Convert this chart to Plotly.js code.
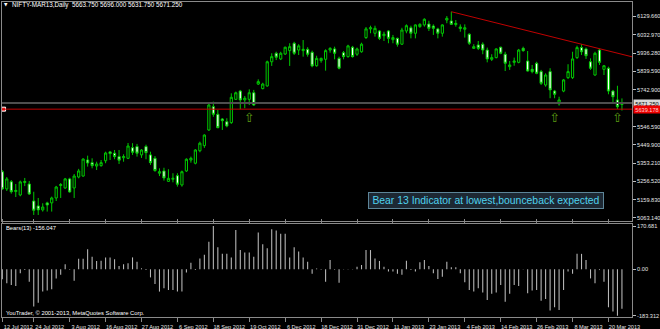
<!DOCTYPE html>
<html><head><meta charset="utf-8">
<script src="https://cdn.plot.ly/plotly-3.0.1.min.js"></script>
<style>html,body{margin:0;padding:0;background:#000;}#chart{width:660px;height:329px;}</style>
</head><body><div id="chart"></div>
<script>
// ---- data ----
const barIdx = Array.from({length:139},(_,i)=>i);
const openP  = [5308,5217,5255,5203,5185,5251,5243,5153,5127,5106,5143,5143,5169,5235,5222,5270,5222,5280,5285,5370,
5356,5338,5340,5366,5413,5406,5388,5382,5379,5435,5441,5397,5441,5397,5379,5300,5312,5257,5268,5287,
5238,5312,5370,5353,5419,5446,5529,5652,5612,5587,5573,5568,5691,5735,5688,5691,5726,5772,5748,5762,
5890,5935,5905,5931,5949,5988,5952,5949,5956,5940,5869,5896,5903,5952,5958,5908,5938,5917,5967,5930,
5943,6018,6064,6041,6053,6028,6053,6007,6014,5983,6053,6070,6041,6076,6085,6090,6079,6064,6041,6111,
6106,6087,6066,6062,6036,5961,5979,5983,5952,5903,5912,5967,5930,5864,5887,5887,5961,5894,5850,5882,
5838,5767,5838,5735,5667,5735,5806,5806,5912,5965,5958,5890,5820,5952,5850,5856,5735,5688,5663.75];
const highP  = [5317,5280,5264,5243,5261,5275,5259,5202,5169,5141,5149,5176,5233,5248,5275,5276,5296,5323,5379,5393,
5379,5361,5370,5414,5418,5423,5423,5400,5460,5459,5455,5428,5451,5414,5391,5326,5329,5321,5300,5300,
5314,5379,5388,5427,5467,5506,5670,5679,5635,5592,5591,5723,5732,5741,5709,5744,5741,5797,5779,5896,
5935,5943,5943,5970,5988,5996,5983,6005,5967,5949,5922,5912,5956,5967,5970,5917,5947,5980,5974,5965,
5991,6074,6081,6081,6058,6049,6058,6032,6018,6070,6088,6081,6088,6094,6120,6107,6088,6070,6088,6132,
6155,6111,6088,6088,6041,5983,6000,5993,5965,5930,5961,5970,5943,5894,5912,5958,5970,5947,5873,5890,
5847,5829,5856,5741,5705,5799,5877,5943,5975,5983,5965,5908,5943,5958,5873,5864,5741,5763,5696];
const lowP   = [5211,5206,5192,5174,5178,5232,5185,5079,5079,5097,5097,5097,5153,5169,5217,5197,5169,5273,5282,5335,
5326,5317,5335,5353,5370,5374,5349,5361,5375,5397,5388,5381,5374,5344,5308,5285,5261,5254,5252,5229,
5229,5307,5356,5347,5411,5434,5524,5599,5538,5529,5543,5561,5688,5639,5644,5661,5656,5767,5744,5758,
5868,5899,5899,5926,5868,5926,5926,5917,5917,5861,5864,5885,5843,5938,5903,5850,5903,5912,5912,5921,
5938,6011,6041,6023,6005,6000,5988,5988,5970,5979,6041,6014,6014,6070,6076,6053,6032,6014,6023,6094,
6085,6076,6049,6018,5979,5958,5952,5930,5887,5894,5908,5930,5841,5847,5869,5882,5943,5838,5829,5824,
5767,5758,5697,5697,5658,5729,5799,5799,5905,5926,5905,5847,5816,5873,5820,5718,5676,5640,5631.75];
const closeP = [5217,5270,5202,5209,5254,5256,5190,5104,5106,5121,5132,5169,5227,5240,5270,5201,5285,5312,5375,5354,
5340,5349,5356,5407,5404,5388,5369,5388,5444,5411,5406,5423,5409,5356,5314,5308,5275,5273,5273,5242,
5308,5374,5379,5423,5459,5502,5661,5612,5541,5578,5550,5702,5726,5688,5697,5726,5661,5785,5772,5890,
5917,5914,5935,5967,5970,5935,5974,5956,5930,5868,5908,5908,5949,5961,5935,5856,5917,5974,5917,5958,
5983,6064,6070,6067,6014,6036,6014,6018,5983,6058,6081,6041,6085,6088,6115,6067,6067,6041,6085,6120,
6088,6093,6074,6070,5988,5970,5961,5952,5905,5912,5958,5935,5882,5873,5894,5952,5949,5841,5838,5829,
5776,5820,5741,5718,5688,5794,5838,5905,5965,5943,5922,5856,5935,5887,5869,5735,5705,5652,5671.25];
const bears = [-39.5,-55,-62,-66,-16,-3,-49,-147,-132,-88,-84,-79,-36,-22,20,-2,-45,42,42,79,
50,33,34,47,47,40,13,20,24,47,30,4,-3,-32,-58,-88,-75,-82,-82,-88,
-88,-13,26,-3,43,57,109,170.681,87,61,61,47,155,76,66,66,50,145,99,83,
158,153,140,140,47,87,70,47,30,-18,3,-2,-49,37,-2,-53,-1,1,-1,10,
17,76,76,43,33,10,-9,-9,-18,-22,34,-3,-9,28,37,13,-16,-38,-29,30,
8,8,-16,-51,-82,-88,-75,-92,-121,-97,-92,-62,-128,-97,-62,-66,-1,-95,-84,-82,
-124,-117,-163,-150,-161,-82,-9,-18,61,61,37,-36,-55,-3,-49,-150,-167,-183.312,-156.047];

const tickIdx  = [0,7,15,23,31,39,47,55,63,71,79,87,95,103,111,119,127,135];
const tickText = ['12 Jul 2012','24 Jul 2012','3 Aug 2012','16 Aug 2012','27 Aug 2012','6 Sep 2012','18 Sep 2012',
'19 Oct 2012','6 Dec 2012','18 Dec 2012','31 Dec 2012','11 Jan 2013','23 Jan 2013','4 Feb 2013','14 Feb 2013',
'26 Feb 2013','8 Mar 2013','20 Mar 2013'];
const priceTicks = [6129.66,6032.97,5936.28,5839.59,5742.90,5546.59,5449.90,5353.21,5256.52,5159.83,5063.14];
const bearTicks  = [170.681,0,-183.312];
const bearTickText = ['170.681','0.00','-183.312'];
const bidPrice = 5671.25;
const levelPrice = 5639.178;
const trendIdx = [100,129];
const trendPrice = [6155,5983];
const arrowIdx = [55,123,137];
const arrowPrice = [5590,5588,5588];

// ---- chart ----
const xRange = [-0.07,140.24];
const slope = (trendPrice[1]-trendPrice[0])/(trendIdx[1]-trendIdx[0]);
const trendEndPrice = trendPrice[0] + slope*(xRange[1]-trendIdx[0]);
const candleCol = '#00c800';

const traces = [
 {type:'candlestick', x:barIdx, open:openP, high:highP, low:lowP, close:closeP, xaxis:'x', yaxis:'y',
  increasing:{line:{color:candleCol,width:1}, fillcolor:'#000000'},
  decreasing:{line:{color:candleCol,width:1}, fillcolor:'#ffffff'},
  whiskerwidth:0, hoverinfo:'skip'},
 {type:'bar', x:barIdx, y:bears, xaxis:'x', yaxis:'y2', width:0.24,
  marker:{color:'#b8b8b8', line:{width:0}}, hoverinfo:'skip'},
 {type:'scatter', mode:'text', x:arrowIdx, y:arrowPrice, text:arrowIdx.map(()=>'⇧'), xaxis:'x', yaxis:'y',
  textfont:{family:'DejaVu Sans', size:13, color:'#5a9a12'}, hoverinfo:'skip'},
 {type:'scatter', mode:'markers', x:[xRange[0]+0.35], y:[levelPrice], xaxis:'x', yaxis:'y', cliponaxis:false,
  marker:{symbol:'square', size:4, color:'#ff2020', line:{color:'#ffffff', width:1}}, hoverinfo:'skip'}
];

const axisFont = {family:'Liberation Sans, Arial, sans-serif', size:5.6, color:'#e6e6e6'};
const layout = {
 width:660, height:329,
 margin:{l:2, r:28, t:2, b:12, pad:0},
 paper_bgcolor:'#000000', plot_bgcolor:'#000000',
 showlegend:false,
 font:axisFont,
 xaxis:{range:xRange, type:'linear', anchor:'y2', showgrid:false, zeroline:false,
  showline:true, mirror:'all', linecolor:'#8a8a8a', linewidth:1,
  tickmode:'array', tickvals:tickIdx, ticktext:tickText, ticks:'outside', ticklen:4, tickcolor:'#8a8a8a',
  tickfont:axisFont, ticklabelshift:16, ticklabelstandoff:0, rangeslider:{visible:false}, fixedrange:true},
 yaxis:{domain:[0.3048,1], range:[5047.2,6206.4], side:'right', showgrid:false, zeroline:false,
  showline:true, mirror:true, linecolor:'#8a8a8a', linewidth:1,
  tickmode:'array', tickvals:priceTicks, ticktext:priceTicks.map(v=>v.toFixed(3)),
  ticks:'outside', ticklen:3, tickcolor:'#bdbdbd', tickfont:axisFont, fixedrange:true},
 yaxis2:{domain:[0,0.2952], range:[-188.4,178.9], side:'right', showgrid:false, zeroline:false,
  showline:true, mirror:true, linecolor:'#8a8a8a', linewidth:1,
  tickmode:'array', tickvals:bearTicks, ticktext:bearTickText,
  ticks:'outside', ticklen:3, tickcolor:'#bdbdbd', tickfont:axisFont, fixedrange:true},
 shapes:[
  {type:'line', xref:'paper', x0:0, x1:1, yref:'y', y0:bidPrice, y1:bidPrice, line:{color:'#4e4e4e', width:2}},
  {type:'line', xref:'paper', x0:0, x1:1, yref:'y', y0:levelPrice, y1:levelPrice, line:{color:'#c00000', width:1}},
  {type:'line', xref:'x', yref:'y', x0:trendIdx[0], y0:trendPrice[0], x1:xRange[1], y1:trendEndPrice,
   line:{color:'#c00000', width:1}}
 ],
 annotations:[
  {xref:'paper', yref:'paper', x:0.0005, y:0.9905, xanchor:'left', yanchor:'middle', showarrow:false,
   text:'▼', font:{family:'DejaVu Sans', size:4.5, color:'#ffffff'}},
  {xref:'paper', yref:'paper', x:0.0125, y:0.9905, xanchor:'left', yanchor:'middle', showarrow:false,
   text:'NIFTY-MAR13,Daily  5663.750 5696.000 5631.750 5671.250', font:{family:'Liberation Sans, Arial', size:6.3, color:'#ffffff'}},
  {xref:'paper', yref:'paper', x:0.003, y:0.2825, xanchor:'left', yanchor:'middle', showarrow:false,
   text:'Bears(13) -156.047', font:{family:'Liberation Sans, Arial', size:5.8, color:'#ffffff'}},
  {xref:'paper', yref:'paper', x:0.003, y:0.0135, xanchor:'left', yanchor:'middle', showarrow:false,
   text:'YouTrader, © 2001-2013, MetaQuotes Software Corp.', font:{family:'Liberation Sans, Arial', size:5.8, color:'#ffffff'}},
  {xref:'paper', yref:'paper', x:0.768, y:0.3698, xanchor:'center', yanchor:'middle', showarrow:false,
   text:'Bear 13 Indicator at lowest,bounceback expected', width:232, height:13, borderpad:1,
   bgcolor:'#1d2833', bordercolor:'#5d8598', borderwidth:1,
   font:{family:'Liberation Sans, Arial', size:10.4, color:'#4fd2ee'}},
  {xref:'paper', yref:'y', x:1.0015, y:bidPrice, xanchor:'left', yanchor:'middle', showarrow:false,
   text:'5671.250', width:26, height:7, borderpad:0, bgcolor:'#d8d8d8', font:{family:'Liberation Sans, Arial', size:5.6, color:'#000000'}},
  {xref:'paper', yref:'y', x:1.0015, y:levelPrice, xanchor:'left', yanchor:'middle', showarrow:false,
   text:'5639.178', width:26, height:7, borderpad:0, bgcolor:'#ee0000', font:{family:'Liberation Sans, Arial', size:5.6, color:'#ffd0d0'}}
 ]
};
Plotly.newPlot('chart', traces, layout, {staticPlot:true, displayModeBar:false});
</script></body></html>
